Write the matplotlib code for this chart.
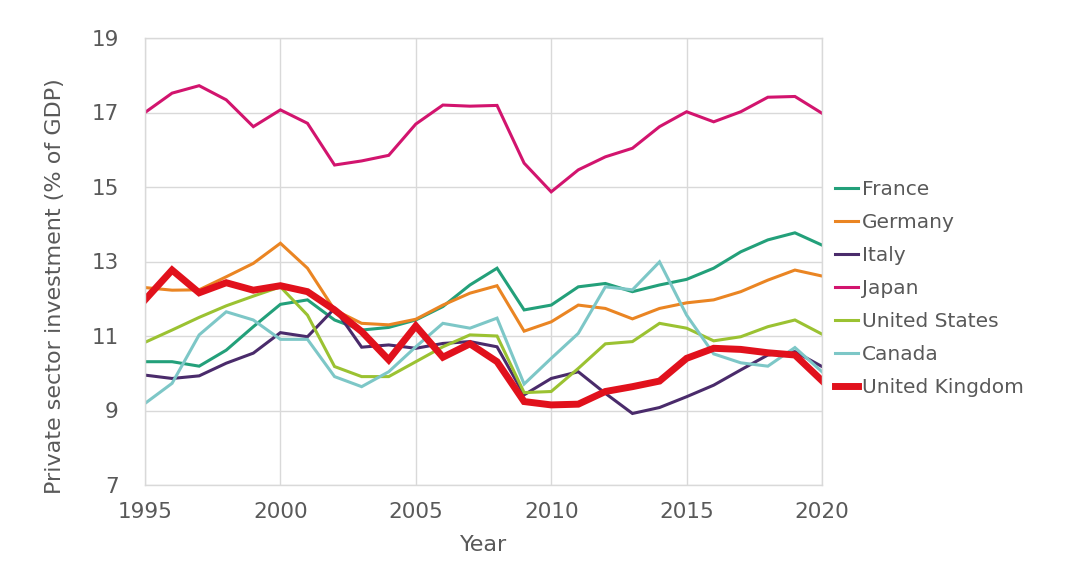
import numpy as np
import matplotlib
matplotlib.use("Agg")
import matplotlib.pyplot as plt

# --- private sector investment, % of GDP ---
years = list(range(1995, 2021))

france = [10.31, 10.31, 10.19, 10.62, 11.25, 11.85, 11.97, 11.43, 11.16, 11.23,
          11.43, 11.79, 12.37, 12.82, 11.70, 11.83, 12.32, 12.41, 12.19, 12.37,
          12.52, 12.82, 13.26, 13.58, 13.77, 13.44]
germany = [12.30, 12.23, 12.24, 12.59, 12.95, 13.49, 12.82, 11.70, 11.34, 11.30,
           11.45, 11.83, 12.15, 12.35, 11.13, 11.38, 11.83, 11.74, 11.46, 11.74,
           11.89, 11.97, 12.19, 12.50, 12.77, 12.61]
italy = [9.95, 9.86, 9.93, 10.27, 10.54, 11.09, 10.98, 11.74, 10.70, 10.76,
         10.67, 10.80, 10.85, 10.71, 9.42, 9.86, 10.04, 9.46, 8.92, 9.08,
         9.37, 9.68, 10.09, 10.49, 10.58, 10.18]
japan = [17.00, 17.52, 17.72, 17.34, 16.62, 17.07, 16.71, 15.59, 15.70, 15.85,
         16.69, 17.20, 17.17, 17.19, 15.64, 14.87, 15.46, 15.81, 16.04, 16.62,
         17.02, 16.75, 17.02, 17.41, 17.43, 16.98]
united_states = [10.83, 11.16, 11.50, 11.81, 12.07, 12.32, 11.56, 10.18, 9.91, 9.91,
                 10.31, 10.71, 11.03, 11.00, 9.48, 9.51, 10.13, 10.79, 10.85, 11.34,
                 11.21, 10.87, 10.98, 11.25, 11.43, 11.05]
canada = [9.19, 9.73, 11.03, 11.65, 11.43, 10.91, 10.91, 9.91, 9.64, 10.04,
          10.71, 11.34, 11.21, 11.48, 9.71, 10.40, 11.07, 12.32, 12.24, 12.99,
          11.56, 10.52, 10.28, 10.19, 10.69, 10.04]
united_kingdom = [11.97, 12.77, 12.16, 12.43, 12.23, 12.35, 12.19, 11.70, 11.12, 10.36,
                  11.27, 10.43, 10.79, 10.31, 9.24, 9.15, 9.17, 9.51, 9.64, 9.79,
                  10.40, 10.67, 10.64, 10.55, 10.49, 9.80]

TXT = "#595959"
GRID = "#d9d9d9"

plt.rcParams["font.family"] = ["DejaVu Sans"]

fig = plt.figure(figsize=(10.65, 5.63), dpi=100)
ax = fig.add_axes([145 / 1065, 1 - 485 / 563, (822 - 145) / 1065, (485 - 38) / 563])

series = [
    ("France", france, "#23a07a", 2.2),
    ("Germany", germany, "#ea8523", 2.2),
    ("Italy", italy, "#4a2b6b", 2.2),
    ("Japan", japan, "#d2146e", 2.2),
    ("United States", united_states, "#9bc232", 2.2),
    ("Canada", canada, "#7dc7c7", 2.2),
    ("United Kingdom", united_kingdom, "#e1111c", 5.0),
]
for name, vals, col, lw in series:
    ax.plot(years, vals, color=col, lw=lw, label=name, solid_joinstyle="miter")

ax.set_xlim(1995, 2020)
ax.set_ylim(7, 19)
ax.set_xticks(range(1995, 2021, 5))
ax.set_yticks(range(7, 20, 2))
ax.grid(True, color=GRID, lw=1)
ax.set_axisbelow(True)
for s in ax.spines.values():
    s.set_color(GRID)
    s.set_linewidth(1)
ax.tick_params(axis="both", length=0, labelsize=15.5, colors=TXT)
ax.tick_params(axis="x", pad=12)
ax.tick_params(axis="y", pad=19)

# axis titles placed where the reference has them
fig.text(484 / 1065, 1 - 545 / 563, "Year", fontsize=16, color=TXT,
         ha="center", va="center")
fig.text(55 / 1065, 1 - 286.5 / 563, "Private sector investment (% of GDP)",
         fontsize=16, color=TXT, rotation=90, ha="center", va="center")

leg = fig.legend(loc="center left", bbox_to_anchor=(835 / 1065, 1 - 288.5 / 563),
                 frameon=False, fontsize=14.5, handlelength=1.13, handletextpad=0.2,
                 labelspacing=0.7, borderpad=0, borderaxespad=0)
for t in leg.get_texts():
    t.set_color(TXT)

plt.savefig("out.png", dpi=100)
